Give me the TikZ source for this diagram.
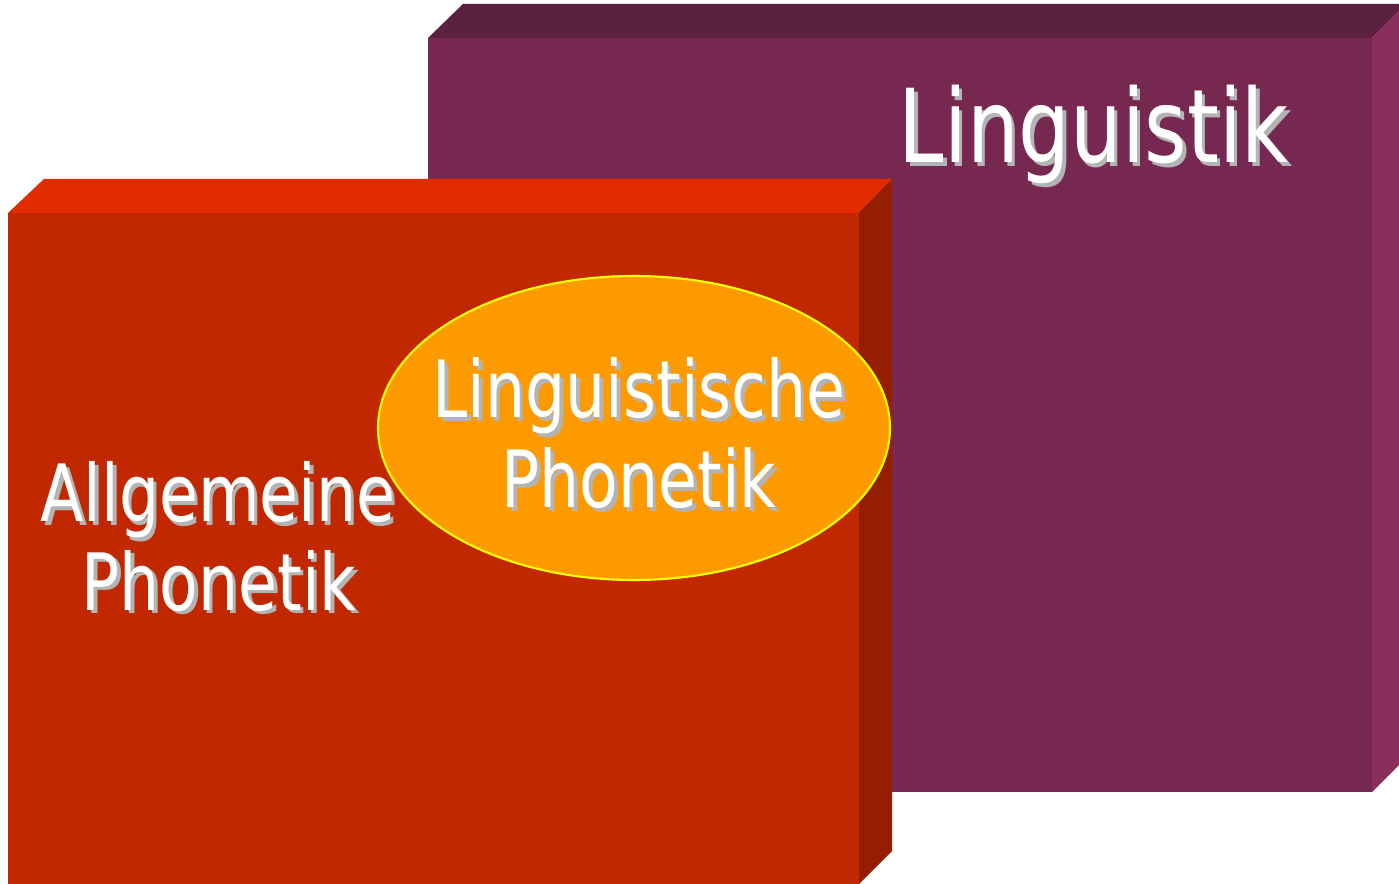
\documentclass[tikz,border=0pt]{standalone}
\usepackage{fontspec}
\setmainfont{DejaVu Sans}[FakeStretch=0.8]
\usetikzlibrary{shapes.geometric}

\definecolor{lingfront}{HTML}{772850}
\definecolor{lingtop}{HTML}{5C2040}
\definecolor{lingside}{HTML}{8A2D5A}
\definecolor{phonfront}{HTML}{C22800}
\definecolor{phontop}{HTML}{E02C00}
\definecolor{phonside}{HTML}{961E00}
\definecolor{ovalfill}{HTML}{FC9A00}
\definecolor{ovalline}{HTML}{FFFF00}
\definecolor{txtshadow}{HTML}{B4B4B4}

\newcommand{\shtxt}[4]{% name, x, y, text
	\node[txt,text=txtshadow,xshift=0.07cm,yshift=-0.07cm] (#1s) at (#2,#3) {#4};
	\node[txt] (#1) at (#2,#3) {#4};}

\begin{document}
\begin{tikzpicture}[x=0.02cm,y=-0.02cm,
	txt/.style={anchor=base,inner sep=0pt,text=white}]
	\useasboundingbox (0,0) rectangle (1399,884);
	\clip (0,0) rectangle (1399,884);
	% Linguistik-Quader
	\fill[lingtop] (428,38) -- (463,4) -- (1406,4) -- (1372,38) -- cycle; %oben
	\fill[lingside] (1372,38) -- (1406,4) -- (1406,758) -- (1372,792) -- cycle; %Seite
	\fill[lingfront] (428,38) rectangle (1372,792); %vorne
	% Phonetik-Quader
	\fill[phontop] (8,213) -- (44,179) -- (892,179) -- (859,213) -- cycle; %oben
	\fill[phonside] (859,213) -- (892,179) -- (892,851) -- (859,884) -- cycle; %Seite
	\fill[phonfront] (8,213) rectangle (859,884); %vorne
	% Schnittmenge
	\node[ellipse,draw=ovalline,fill=ovalfill,line width=1.2pt,
		minimum width=512*0.02cm,minimum height=304*0.02cm,inner sep=0pt] (oval) at (634,428) {};
	% Beschriftungen
	\fontsize{58}{70}\selectfont
	\shtxt{ling}{1094}{163}{Linguistik}
	\fontsize{45}{54}\selectfont
	\shtxt{lph1}{639}{418}{Linguistische}
	\shtxt{lph2}{639}{508}{Phonetik}
	\shtxt{aph1}{218}{522}{Allgemeine}
	\shtxt{aph2}{219}{610}{Phonetik}
\end{tikzpicture}
\end{document}
